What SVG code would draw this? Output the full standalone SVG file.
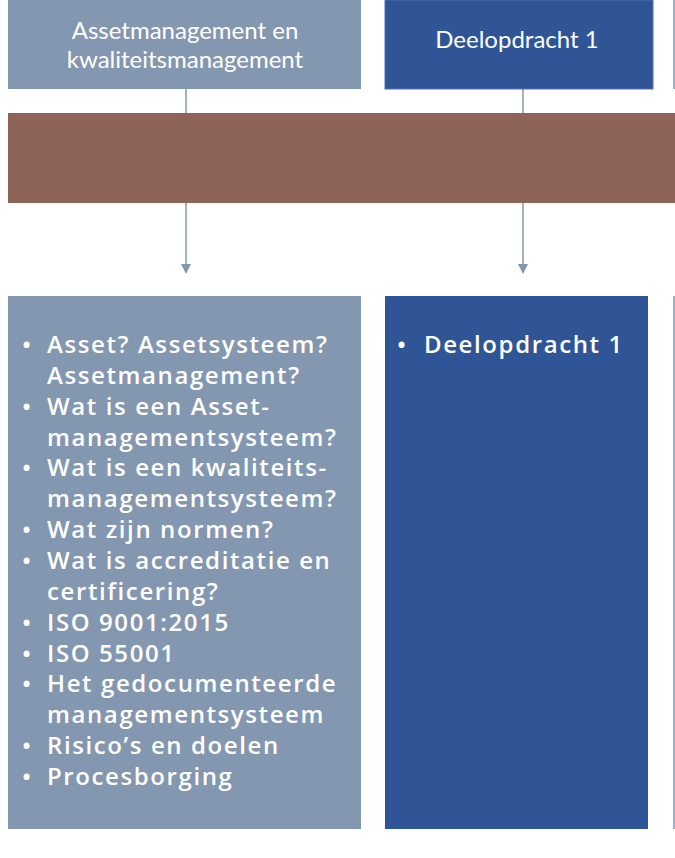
<svg xmlns="http://www.w3.org/2000/svg" width="675" height="858" viewBox="0 0 675 858">
<defs>
<style>
.gray{fill:#8497B0}
.blue{fill:#2F5597}
.edge{fill:#9FB0C8}
.hdr{font-family:"Lato","Open Sans","Liberation Sans",sans-serif;font-size:24px;fill:#FFFFFF;text-anchor:middle}
.lst{font-family:"Open Sans","Liberation Sans",sans-serif;font-weight:600;font-size:24px;fill:#FFFFFF;letter-spacing:1.6px}
.conn{stroke:#8497B0;stroke-width:1.5;fill:none}
</style>
</defs>
<rect width="675" height="858" fill="#FFFFFF"/>
<g id="connectors">
<line class="conn" x1="186" y1="89" x2="186" y2="264"/>
<path d="M181,264 L191,264 L186,274 Z" fill="#8497B0"/>
<line class="conn" x1="523" y1="89" x2="523" y2="264"/>
<path d="M518,264 L528,264 L523,274 Z" fill="#8497B0"/>
</g>
<g id="band">
<rect x="8" y="113" width="667" height="90" fill="#8E6458"/>
</g>
<g id="head-asset">
<rect class="gray" x="8" y="0" width="353" height="89"/>
<text class="hdr" x="185" y="39">Assetmanagement en</text>
<text class="hdr" x="185" y="68">kwaliteitsmanagement</text>
</g>
<g id="head-deel1">
<rect class="blue" x="385" y="0" width="268" height="89" stroke="#4F72B4" stroke-width="1"/>
<text class="hdr" x="517" y="48">Deelopdracht 1</text>
</g>
<g id="head-next">
<rect class="edge" x="673" y="0" width="2" height="89"/>
</g>
<g id="body-asset">
<rect class="gray" x="8" y="296" width="353" height="533"/>
<g class="lst">
<text x="22" y="353">•</text><text x="47" y="353">Asset? Assetsysteem?</text>
<text x="47" y="384">Assetmanagement?</text>
<text x="22" y="415">•</text><text x="47" y="415">Wat is een Asset-</text>
<text x="47" y="446">managementsysteem?</text>
<text x="22" y="476">•</text><text x="47" y="476">Wat is een kwaliteits-</text>
<text x="47" y="507">managementsysteem?</text>
<text x="22" y="538">•</text><text x="47" y="538">Wat zijn normen?</text>
<text x="22" y="569">•</text><text x="47" y="569">Wat is accreditatie en</text>
<text x="47" y="600">certificering?</text>
<text x="22" y="631">•</text><text x="47" y="631">ISO 9001:2015</text>
<text x="22" y="662">•</text><text x="47" y="662">ISO 55001</text>
<text x="22" y="692">•</text><text x="47" y="692">Het gedocumenteerde</text>
<text x="47" y="723">managementsysteem</text>
<text x="22" y="754">•</text><text x="47" y="754">Risico’s en doelen</text>
<text x="22" y="785">•</text><text x="47" y="785">Procesborging</text>
</g>
</g>
<g id="body-deel1">
<rect class="blue" x="385" y="296" width="263" height="533"/>
<g class="lst">
<text x="397" y="353">•</text><text x="424" y="353">Deelopdracht 1</text>
</g>
</g>
<g id="body-next">
<rect class="edge" x="673" y="296" width="2" height="533"/>
</g>
</svg>
